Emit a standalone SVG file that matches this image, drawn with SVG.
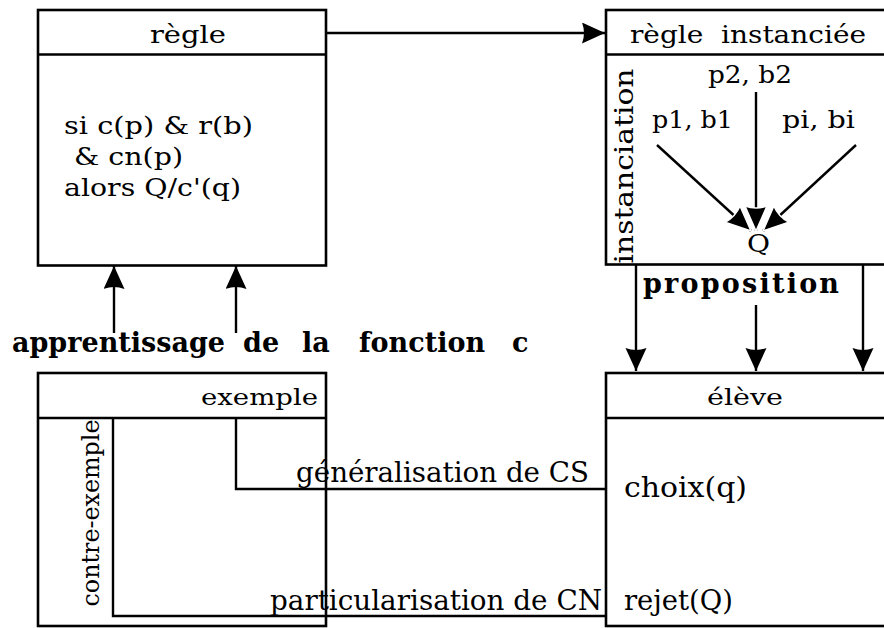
<svg xmlns="http://www.w3.org/2000/svg" width="884" height="628" viewBox="0 0 884 628">
<style>
.box{fill:#fff;stroke:#000;stroke-width:2.6}
.div{stroke:#000;stroke-width:2.6}
.ln{fill:none;stroke:#000;stroke-width:2.4}
.t{font-family:"DejaVu Serif","Liberation Serif",serif;fill:#000}
.b{font-family:"DejaVu Serif","Liberation Serif",serif;fill:#000;font-weight:bold}
</style>
<defs>
<marker id="ah" markerUnits="userSpaceOnUse" markerWidth="24" markerHeight="22" refX="23" refY="10.5" orient="auto" viewBox="0 0 24 22">
<path d="M0,0 L23,10.5 L0,21 Q4,10.5 0,0 z" fill="#000"/>
</marker>
<marker id="ahw" markerUnits="userSpaceOnUse" markerWidth="28" markerHeight="26" refX="25" refY="12" orient="auto" viewBox="-1 -1 28 26">
<path d="M0,1 L25,12 L0,23 Q4,12 0,1 z" fill="#000" stroke="#fff" stroke-width="1.5"/>
</marker>
</defs>

<g id="regle">
<rect class="box" x="38" y="10" width="288" height="255.5"/>
<line class="div" x1="38" y1="54.5" x2="326" y2="54.5"/>
<text class="t" style="font-size:24px" x="150" y="43" textLength="76" lengthAdjust="spacingAndGlyphs">règle</text>
<text class="t" style="font-size:25px">
<tspan x="64" y="134" textLength="189" lengthAdjust="spacingAndGlyphs">si c(p) &amp; r(b)</tspan>
<tspan x="74" y="165" textLength="109" lengthAdjust="spacingAndGlyphs">&amp; cn(p)</tspan>
<tspan x="64" y="196" textLength="177" lengthAdjust="spacingAndGlyphs">alors Q/c'(q)</tspan>
</text>
</g>

<g id="regle-instanciee">
<rect class="box" x="606" y="10" width="290" height="254.5"/>
<line class="div" x1="606" y1="54.5" x2="890" y2="54.5"/>
<text class="t" x="630" y="43" textLength="236" lengthAdjust="spacingAndGlyphs" style="font-size:24px;white-space:pre">règle  instanciée</text>
<text class="t" style="font-size:26px" transform="translate(633,166) rotate(-90)" text-anchor="middle" textLength="195" lengthAdjust="spacingAndGlyphs">instanciation</text>
<text class="t" style="font-size:24px" x="708" y="83" textLength="84" lengthAdjust="spacingAndGlyphs">p2, b2</text>
<text class="t" style="font-size:24px" x="652" y="128" textLength="81" lengthAdjust="spacingAndGlyphs">p1, b1</text>
<text class="t" style="font-size:24px" x="782" y="128" textLength="73" lengthAdjust="spacingAndGlyphs">pi, bi</text>
<text class="t" style="font-size:25px" x="747" y="252" textLength="23" lengthAdjust="spacingAndGlyphs">Q</text>
</g>

<g id="exemple">
<rect class="box" x="38" y="373" width="288" height="253"/>
<line class="div" x1="38" y1="418" x2="326" y2="418"/>
<text class="t" style="font-size:23px" x="318" y="405" text-anchor="end" textLength="117" lengthAdjust="spacingAndGlyphs">exemple</text>
<text class="t" style="font-size:24px" transform="translate(99,513) rotate(-90)" text-anchor="middle" textLength="187" lengthAdjust="spacingAndGlyphs">contre-exemple</text>
</g>

<g id="eleve">
<rect class="box" x="606" y="373" width="290" height="253"/>
<line class="div" x1="606" y1="418" x2="890" y2="418"/>
<text class="t" style="font-size:23px" x="707" y="405" textLength="76" lengthAdjust="spacingAndGlyphs">élève</text>
<text class="t" style="font-size:27px" x="624" y="497" textLength="123" lengthAdjust="spacingAndGlyphs">choix(q)</text>
<text class="t" style="font-size:27px" x="624" y="610" textLength="109" lengthAdjust="spacingAndGlyphs">rejet(Q)</text>
</g>

<g id="connectors">
<line class="ln" x1="326" y1="33" x2="605" y2="33" marker-end="url(#ah)"/>
<line class="ln" x1="114" y1="333" x2="114" y2="266" marker-end="url(#ah)"/>
<line class="ln" x1="236" y1="333" x2="236" y2="266" marker-end="url(#ah)"/>
<line class="ln" x1="756" y1="92" x2="756" y2="231" marker-end="url(#ahw)"/>
<line class="ln" x1="657" y1="145" x2="751" y2="231" marker-end="url(#ahw)"/>
<line class="ln" x1="856" y1="145" x2="763" y2="231" marker-end="url(#ahw)"/>
<line class="ln" x1="636" y1="265" x2="636" y2="371" marker-end="url(#ah)"/>
<line class="ln" x1="756" y1="305" x2="756" y2="371" marker-end="url(#ah)"/>
<line class="ln" x1="863" y1="265" x2="863" y2="371" marker-end="url(#ah)"/>
<polyline class="ln" points="236,418 236,489 605,489"/>
<polyline class="ln" points="113,418 113,616 605,616"/>
</g>

<g id="labels">
<text class="b" style="font-size:27px" x="643" y="293" textLength="196" lengthAdjust="spacing">proposition</text>
<text class="b" style="font-size:27px" y="352"><tspan x="12">apprentissage</tspan><tspan x="243">de</tspan><tspan x="302">la</tspan><tspan x="359">fonction</tspan><tspan x="512">c</tspan></text>
<text class="t" style="font-size:27px" x="296" y="482" textLength="293" lengthAdjust="spacingAndGlyphs">généralisation de CS</text>
<text class="t" style="font-size:27px" x="270" y="610" textLength="332" lengthAdjust="spacingAndGlyphs">particularisation de CN</text>
</g>
</svg>
